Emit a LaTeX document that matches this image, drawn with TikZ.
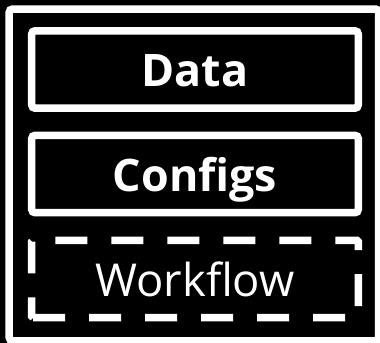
\documentclass[tikz,border=0pt]{standalone}
\usepackage{fontspec}
\setmainfont{Open Sans}

\tikzset{
  boxshape/.style={minimum width=244.9pt, minimum height=58.1pt, inner sep=0pt, outer sep=0pt,
    text=white, text height=26pt, text depth=0pt},
  layerbox/.style={boxshape, draw=white, line width=5.625pt, rounded corners=2.5pt},
  dashedborder/.style={white, line width=5.625pt, rounded corners=1pt, dash pattern=on 24pt off 18pt},
  boldlabel/.style={font=\bfseries\fontsize{33.6}{40}\selectfont},
  plainlabel/.style={font=\fontsize{34}{40}\selectfont},
}

\begin{document}
\begin{tikzpicture}[x=0.75pt,y=0.75pt,yscale=-1,xscale=1]
\useasboundingbox (0,0) rectangle (380,343);
%Background
\fill [black] (0,0) rectangle (380,343);
%Shape: Outer frame
\draw [white, line width=5.625pt, rounded corners=2.5pt] (9.25,9) rectangle (378.75,340.75);

%Shape: Rectangle
\node [layerbox, boldlabel] (data) at (195,69.5) {Data};
%Shape: Rectangle
\node [layerbox, boldlabel] (configs) at (195,174) {Configs};
%Shape: Rectangle (dashed)
\node [boxshape, plainlabel] (workflow) at (195,279) {Workflow};
\draw [dashedborder] (workflow.south west) -- (workflow.south east) -- (workflow.north east) -- (workflow.north west) -- cycle;

\end{tikzpicture}
\end{document}
